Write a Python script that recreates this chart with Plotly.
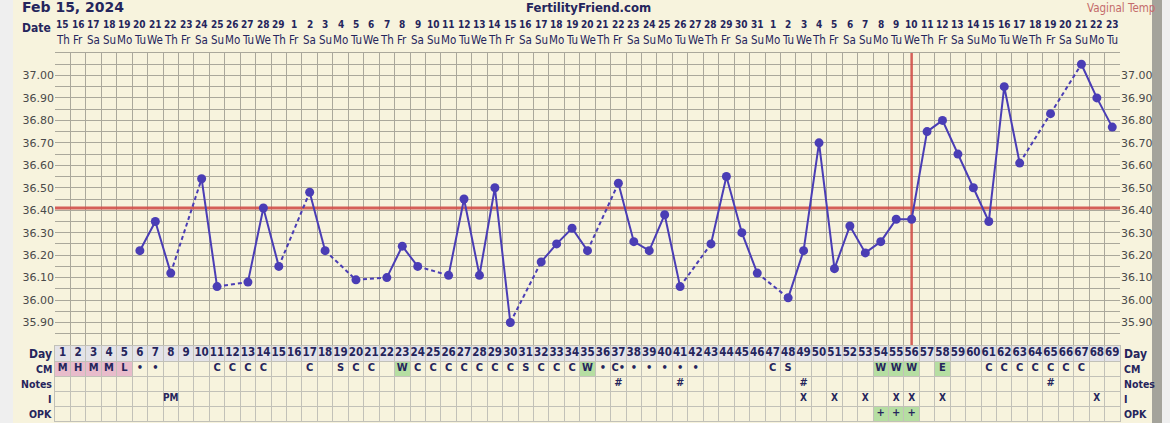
import pandas as pd
import plotly.graph_objects as go

# chart values
days = list(range(1, 70))
temps = [None, None, None, None, None, 36.22, 36.35, 36.12, None, 36.54,
         36.06, None, 36.08, 36.41, 36.15, None, 36.48, 36.22, None, 36.09,
         None, 36.10, 36.24, 36.15, None, 36.11, 36.45, 36.11, 36.50, 35.90,
         None, 36.17, 36.25, 36.32, 36.22, None, 36.52, 36.26, 36.22, 36.38,
         36.06, None, 36.25, 36.55, 36.30, 36.12, None, 36.01, 36.22, 36.70,
         36.14, 36.33, 36.21, 36.26, 36.36, 36.36, 36.75, 36.80, 36.65, 36.50,
         36.35, 36.95, 36.61, None, 36.83, None, 37.05, 36.90, 36.77]
coverline = 36.41
ovulation_day = 56
start_date = '2024-02-15'

cm = {1: 'M', 2: 'H', 3: 'M', 4: 'M', 5: 'L', 6: '•', 7: '•', 11: 'C', 12: 'C', 13: 'C', 14: 'C',
      17: 'C', 19: 'S', 20: 'C', 21: 'C', 23: 'W', 24: 'C', 25: 'C', 26: 'C', 27: 'C', 28: 'C',
      29: 'C', 30: 'C', 31: 'S', 32: 'C', 33: 'C', 34: 'C', 35: 'W', 36: '•', 37: 'C•', 38: '•',
      39: '•', 40: '•', 41: '•', 42: '•', 47: 'C', 48: 'S', 54: 'W', 55: 'W', 56: 'W', 58: 'E',
      61: 'C', 62: 'C', 63: 'C', 64: 'C', 65: 'C', 66: 'C', 67: 'C'}
pink_days = [1, 2, 3, 4, 5]
green_days = [23, 35, 54, 55, 56, 58]
notes = {37: '#', 41: '#', 49: '#', 65: '#'}
intercourse = {8: 'PM', 49: 'X', 51: 'X', 53: 'X', 55: 'X', 56: 'X', 58: 'X', 68: 'X'}
opk = {54: '+', 55: '+', 56: '+'}

W, H = 1170, 423
NAVY = '#25255c'
BLUE = '#4a3db5'
RED = '#d24f4a'
GRID = '#aaa89b'
TGRID = '#c2c1b8'
CREAM = '#f7f3dd'
FONT = 'DejaVu Sans'
NARROW = 'DejaVu Sans Condensed, Liberation Sans Narrow, DejaVu Sans'

def px_x(p):
    return p / W

def px_y(p):
    return 1 - p / H

fig = go.Figure()

# coverline + ovulation line under the temps
fig.add_trace(go.Scatter(x=[0.5, 69.5], y=[coverline, coverline], mode='lines',
                         line=dict(color=RED, width=3), opacity=0.9, hoverinfo='skip', showlegend=False))
fig.add_trace(go.Scatter(x=[ovulation_day, ovulation_day], y=[35.80, 37.10], mode='lines',
                         line=dict(color=RED, width=2.5), opacity=0.9, hoverinfo='skip', showlegend=False))

# dashed segments across missing days, solid between consecutive days
pts = [(d, t) for d, t in zip(days, temps) if t is not None]
dx, dy = [], []
for (d1, t1), (d2, t2) in zip(pts[:-1], pts[1:]):
    if d2 - d1 > 1:
        dx += [d1, d2, None]
        dy += [t1, t2, None]
fig.add_trace(go.Scatter(x=dx, y=dy, mode='lines', line=dict(color=BLUE, width=2, dash='4px,3px'),
                         hoverinfo='skip', showlegend=False))
fig.add_trace(go.Scatter(x=days, y=temps, mode='lines+markers', connectgaps=False,
                         line=dict(color=BLUE, width=2), marker=dict(color=BLUE, size=9),
                         showlegend=False))
# right-hand temp labels
fig.add_trace(go.Scatter(x=[None], y=[None], yaxis='y3', showlegend=False, hoverinfo='skip'))

# table rows (y2: 0..5, Day row on top)
fig.add_trace(go.Scatter(x=days, y=[4.5] * len(days), xaxis='x2', yaxis='y2', mode='text',
                         text=[str(d) for d in days],
                         textfont=dict(family=NARROW, size=11.5, color=NAVY, weight='bold'),
                         hoverinfo='skip', showlegend=False))
rows = [('CM', cm, 3.5), ('Notes', notes, 2.5), ('I', intercourse, 1.5), ('OPK', opk, 0.5)]
for name, vals, yc in rows:
    fig.add_trace(go.Scatter(x=list(vals.keys()), y=[yc] * len(vals), xaxis='x2', yaxis='y2',
                             mode='text', text=list(vals.values()),
                             textfont=dict(family=NARROW, size=10 if name == 'I' else 11,
                                           color=NAVY, weight='bold'),
                             hoverinfo='skip', showlegend=False))

shapes = []
# page edges
shapes.append(dict(type='rect', xref='paper', yref='paper', x0=0, x1=px_x(13), y0=0, y1=1,
                   fillcolor='#efefef', line_width=0, layer='below'))
shapes.append(dict(type='rect', xref='paper', yref='paper', x0=px_x(1152), x1=px_x(1162), y0=0, y1=1,
                   fillcolor='#a4a39b', line_width=0, layer='below'))
shapes.append(dict(type='rect', xref='paper', yref='paper', x0=px_x(1162), x1=1, y0=0, y1=1,
                   fillcolor='#efefef', line_width=0, layer='below'))
# day row background and coloured cells
shapes.append(dict(type='rect', xref='paper', yref='y2', x0=px_x(55), x1=px_x(1120), y0=4, y1=5,
                   fillcolor='#e4e3e8', line_width=0, layer='below'))
for d in pink_days:
    shapes.append(dict(type='rect', xref='x2', yref='y2', x0=d - 0.5, x1=d + 0.5, y0=3, y1=4,
                       fillcolor='#e8bccb', line_width=0, layer='below'))
for d in green_days:
    shapes.append(dict(type='rect', xref='x2', yref='y2', x0=d - 0.5, x1=d + 0.5, y0=3, y1=4,
                       fillcolor='#b6dea2', line_width=0, layer='below'))
for d in opk:
    shapes.append(dict(type='rect', xref='x2', yref='y2', x0=d - 0.5, x1=d + 0.5, y0=0, y1=1,
                       fillcolor='#b6dea2', line_width=0, layer='below'))

annotations = []
dates = pd.date_range(start_date, periods=len(days))
for d, dt in zip(days, dates):
    annotations.append(dict(x=d, y=px_y(25), xref='x', yref='paper', yanchor='middle', text=str(dt.day),
                            showarrow=False, font=dict(family=NARROW, size=10, color=NAVY, weight='bold')))
    annotations.append(dict(x=d, y=px_y(40), xref='x', yref='paper', yanchor='middle',
                            text=dt.strftime('%a')[:2], showarrow=False,
                            font=dict(family=NARROW, size=11.5, color=NAVY)))
annotations.append(dict(x=px_x(53), y=px_y(28), xref='paper', yref='paper', text='Date', showarrow=False,
                        xanchor='right', yanchor='middle',
                        font=dict(family=NARROW, size=12, color=NAVY, weight='bold')))
annotations.append(dict(x=px_x(20), y=px_y(7), xref='paper', yref='paper', text='Feb 15, 2024',
                        showarrow=False, xanchor='left', yanchor='middle',
                        font=dict(family=FONT, size=14, color=NAVY, weight='bold')))
annotations.append(dict(x=px_x(588), y=px_y(7), xref='paper', yref='paper', text='FertilityFriend.com',
                        showarrow=False, yanchor='middle',
                        font=dict(family=NARROW, size=13, color=NAVY, weight='bold')))
annotations.append(dict(x=px_x(1157), y=px_y(8), xref='paper', yref='paper', text='Vaginal Temp',
                        showarrow=False, xanchor='right', yanchor='middle',
                        font=dict(family=NARROW, size=11.5, color='#c46a6a')))
row_labels = [('Day', 4.5), ('CM', 3.5), ('Notes', 2.5), ('I', 1.5), ('OPK', 0.5)]
for lab, yc in row_labels:
    sz = 12 if lab == 'Day' else 10.5
    annotations.append(dict(x=px_x(54), y=yc, xref='paper', yref='y2', text=lab, showarrow=False,
                            xanchor='right', yanchor='middle',
                            font=dict(family=NARROW, size=sz, color=NAVY, weight='bold')))
    annotations.append(dict(x=px_x(1122), y=yc, xref='paper', yref='y2', text=lab, showarrow=False,
                            xanchor='left', yanchor='middle',
                            font=dict(family=NARROW, size=sz, color=NAVY, weight='bold')))

yvals = [round(35.80 + 0.05 * i, 2) for i in range(27)]
ytext = ['%.2f' % v if (i % 2 == 0 and 0 < i < 26) else '' for i, v in enumerate(yvals)]
xgrid = [d - 0.5 for d in days] + [days[-1] + 0.5]
xdom = [px_x(55), px_x(1120)]
tickfont = dict(family=FONT, size=11, color='#4a4a4a')

fig.update_layout(
    width=W, height=H, margin=dict(l=0, r=0, t=0, b=0),
    paper_bgcolor=CREAM, plot_bgcolor=CREAM,
    xaxis=dict(domain=xdom, range=[0.5, 69.5], tickvals=xgrid, showticklabels=False, ticks='',
               showgrid=True, gridcolor=GRID, gridwidth=1.2, zeroline=False,
               showline=True, linecolor=GRID, mirror=True, anchor='y'),
    xaxis2=dict(domain=xdom, range=[0.5, 69.5], tickvals=xgrid, showticklabels=False, ticks='',
                showgrid=True, gridcolor=TGRID, gridwidth=1, zeroline=False,
                showline=True, linecolor=TGRID, mirror=True, anchor='y2'),
    yaxis=dict(domain=[px_y(345), px_y(53)], range=[35.80, 37.10], tickvals=yvals, ticktext=ytext,
               showgrid=True, gridcolor=GRID, gridwidth=1.2, zeroline=False, ticks='',
               tickfont=tickfont, anchor='x'),
    yaxis3=dict(range=[35.80, 37.10], tickvals=yvals, ticktext=ytext, overlaying='y', side='right',
                anchor='x', showgrid=False, zeroline=False, ticks='', tickfont=tickfont),
    yaxis2=dict(domain=[px_y(421), px_y(346)], range=[0, 5], tickvals=[0, 1, 2, 3, 4, 5],
                showticklabels=False, showgrid=True, gridcolor=TGRID, zeroline=False,
                anchor='x2', showline=True, linecolor=TGRID, mirror=True),
    shapes=shapes, annotations=annotations,
)

fig.write_html("out.html", config={'displayModeBar': False},
               post_script="document.body.style.margin='0';")
